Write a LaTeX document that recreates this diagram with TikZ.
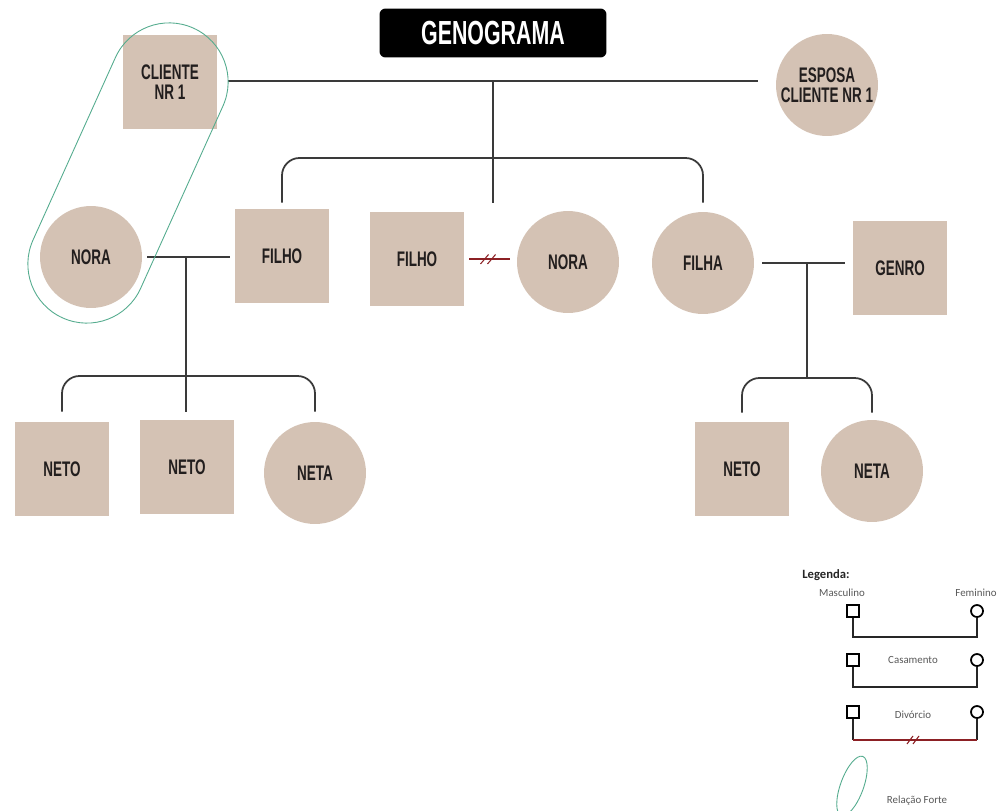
\documentclass[tikz,border=0pt]{standalone}
\usepackage{fontspec}
\usepackage{tikz}
\usetikzlibrary{shapes.geometric}
\newfontfamily\namefont[FakeStretch=0.64]{Liberation Sans}
\newfontfamily\legfont{Carlito}
\definecolor{taupe}{RGB}{212,194,180}
\definecolor{ink}{RGB}{34,30,30}
\definecolor{lineg}{RGB}{58,58,58}
\definecolor{divred}{RGB}{140,32,36}
\definecolor{forte}{RGB}{84,172,142}

\begin{document}
\begin{tikzpicture}[x=0.02cm, y=-0.02cm,
    male/.style={rectangle, fill=taupe, minimum size=1.88cm, inner sep=0pt, align=center, text=ink, font=\namefont\bfseries\fontsize{12}{11.4}\selectfont},
    female/.style={circle, fill=taupe, minimum size=2.04cm, inner sep=0pt, align=center, text=ink, font=\namefont\bfseries\fontsize{12}{11.4}\selectfont},
    rel/.style={draw=lineg, line width=1pt},
    bracket/.style={rel, rounded corners=0.35cm},
    divorce/.style={draw=divred, line width=0.8pt},
    strong/.style={draw=forte, line width=0.5pt},
    legsq/.style={rectangle, draw=black, line width=1pt, minimum size=0.24cm, inner sep=0pt},
    legci/.style={circle, draw=black, line width=1pt, minimum size=0.24cm, inner sep=0pt},
    legline/.style={draw=black!85, line width=1pt},
    legtext/.style={font=\legfont\fontsize{6.2}{7}\selectfont, text=black!65}]
    \fill[white] (0,0) rectangle (1001,811);
    \useasboundingbox (0,0) rectangle (1001,811);

    % Title
    \node[fill=black, rounded corners=0.12cm, minimum width=4.54cm, minimum height=0.98cm, text=white, font=\namefont\bfseries\fontsize{19}{19}\selectfont] (title) at (493,33) {GENOGRAMA};

    % Draw the family members
    \node[male] (cliente) at (170,82) {CLIENTE\\NR 1};
    \node[female] (esposa) at (827,85) {ESPOSA\\CLIENTE NR 1};
    \node[female] (nora1) at (91,257) {NORA};
    \node[male] (filho1) at (282,256) {FILHO};
    \node[male] (filho2) at (417,259) {FILHO};
    \node[female] (nora2) at (568,262) {NORA};
    \node[female] (filha) at (703,263) {FILHA};
    \node[male] (genro) at (900,268) {GENRO};
    \node[male] (neto1) at (62,469) {NETO};
    \node[male] (neto2) at (187,467) {NETO};
    \node[female] (neta1) at (315,473) {NETA};
    \node[male] (neto3) at (742,469) {NETO};
    \node[female] (neta2) at (872,471) {NETA};

    % Junction points
    \coordinate (j1) at (493,81);
    \coordinate (b1) at (493,158);
    \coordinate (d1) at (493,203);
    \coordinate (j2) at (186,257);
    \coordinate (b2) at (186,376);
    \coordinate (d2) at (186,412);
    \coordinate (j3) at (807,263);
    \coordinate (b3) at (807,378);

    % Marriage lines
    \draw[rel, shorten <=0.22cm, shorten >=0.36cm] (j1 -| cliente.east) -- (j1 -| esposa.west);
    \draw[rel, shorten <=0.1cm, shorten >=0.1cm] (nora1.east) -- (nora1.east -| filho1.west);
    \draw[rel, shorten <=0.16cm, shorten >=0.16cm] (filha.east) -- (filha.east -| genro.west);

    % Divorce
    \draw[divorce, shorten <=0.1cm, shorten >=0.14cm] (filho2.east) -- coordinate (dv) (filho2.east -| nora2.west);
    \draw[divorce, line width=0.6pt] ([xshift=-0.2cm, yshift=-0.1cm]dv) -- ++(0.16cm,0.19cm);
    \draw[divorce, line width=0.6pt] ([xshift=-0.06cm, yshift=-0.1cm]dv) -- ++(0.16cm,0.19cm);

    % Children lines
    \draw[rel] (j1) -- (d1);
    \draw[bracket] ([yshift=0.12cm]filho1.north) |- (b1) -| ([yshift=0.18cm]filha.north);
    \draw[rel] (j2) -- (d2);
    \draw[bracket] ([yshift=0.2cm]neto1.north) |- (b2) -| ([yshift=0.2cm]neta1.north);
    \draw[rel] (j3) -- (b3);
    \draw[bracket] ([yshift=0.18cm]neto3.north) |- (b3) -| ([yshift=0.14cm]neta2.north);

    % Strong relation
    \node[strong, rectangle, rotate=65.7, minimum width=6.36cm, minimum height=2.36cm, rounded corners=1.18cm] (forte) at (128,173) {};

    % Legend
    \node[font=\legfont\bfseries\fontsize{7.2}{8}\selectfont, text=black!85] (legenda) at (826,575) {Legenda:};
    \node[legtext] (masc) at (842,593) {Masculino};
    \node[legtext] (fem) at (976,593) {Feminino};
    \node[legsq] (sq1) at (853,611) {};
    \node[legci] (ci1) at (977,611) {};
    \coordinate (u1) at (853,637);
    \draw[legline] (sq1.south) -- (u1) -| (ci1.south);

    \node[legsq] (sq2) at (853,660) {};
    \node[legci] (ci2) at (977,660) {};
    \node[legtext] (casam) at (913,660) {Casamento};
    \coordinate (u2) at (853,687);
    \draw[legline] (sq2.south) -- (u2) -| (ci2.south);

    \node[legsq] (sq3) at (853,712) {};
    \node[legci] (ci3) at (977,712) {};
    \node[legtext] (divor) at (913,715) {Divórcio};
    \coordinate (u3) at (853,740);
    \coordinate (v3) at (977,740);
    \draw[legline] (sq3.south) -- (u3);
    \draw[legline] (ci3.south) -- (v3);
    \draw[divorce, line width=1pt] (u3) -- coordinate (dl) (v3);
    \draw[divorce, line width=0.6pt] ([xshift=-0.16cm, yshift=-0.08cm]dl) -- ++(0.12cm,0.16cm);
    \draw[divorce, line width=0.6pt] ([xshift=-0.04cm, yshift=-0.08cm]dl) -- ++(0.12cm,0.16cm);

    \node[strong, ellipse, rotate=70, minimum width=1.26cm, minimum height=0.46cm] (legforte) at (852,786) {};
    \node[legtext] (relf) at (917,801) {Relação Forte};
\end{tikzpicture}
\end{document}
